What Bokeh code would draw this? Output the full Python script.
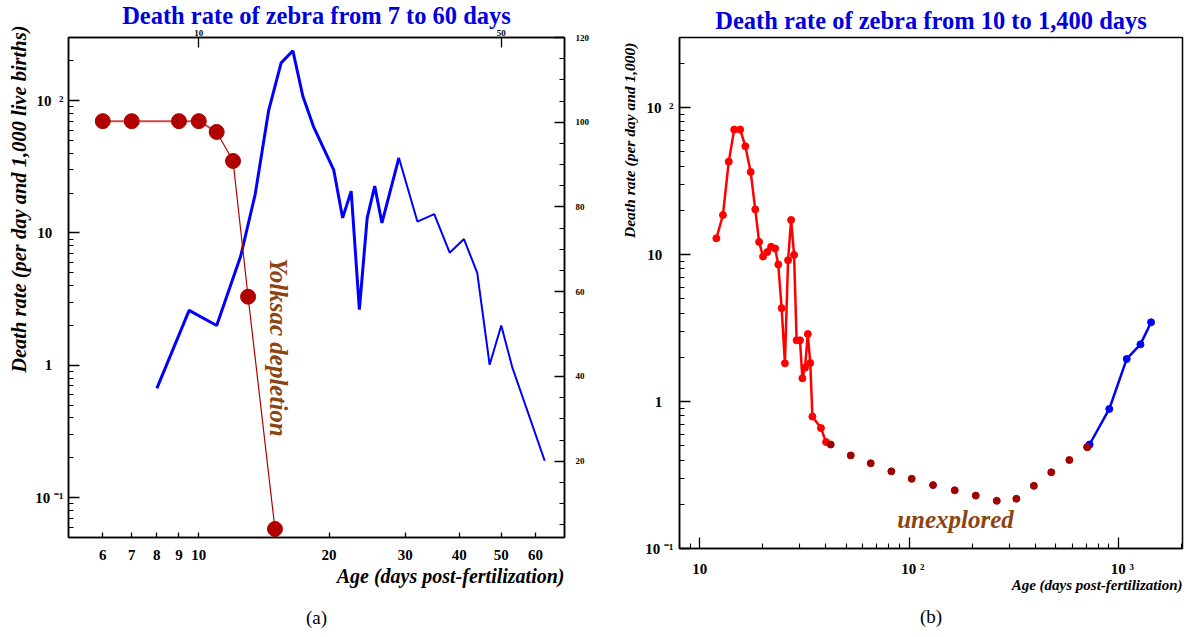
import math

from bokeh.embed import file_html
from bokeh.layouts import row
from bokeh.models import (FixedTicker, Label, LinearAxis, LinearScale, LogAxis,
                          Range1d, Title)
from bokeh.plotting import figure
from bokeh.resources import INLINE

# ---------------- data ----------------
# (a) 7 to 60 days: yolk-sac death rate (per day and 1,000 live births)
yolk_age = [6, 7, 9, 10, 11, 12, 13, 15]
yolk_rate = [70, 70, 70, 70, 58, 35, 3.3, 0.058]

# (a) death rate after yolk-sac depletion
early_age = [8, 9.5, 11, 12.5, 13.5, 14.5, 15.5, 16.5, 17.4, 18.4, 20.5, 21.5,
             22.5, 23.5, 24.5, 25.5, 26.5, 29, 32, 35, 38, 41, 44, 47, 50, 53, 63]
early_rate = [0.67, 2.6, 2.0, 6.7, 19.6, 84, 193, 238, 108, 64, 30, 13,
              20.7, 2.64, 13, 22.6, 11.9, 37, 12.2, 13.9, 7.1, 9.0, 5.0, 1.01,
              2.0, 0.97, 0.19]

# (b) 10 to 1,400 days
juv_age = [12, 12.9, 13.75, 14.6, 15.6, 16.5, 17.5, 18.4, 19.2, 20.05, 21, 21.9,
           22.9, 23.7, 24.6, 25.5, 26.4, 27.3, 28.2, 29, 30.1, 30.9, 31.8, 32.8,
           33.7, 34.5, 37.9, 40.1]
juv_rate = [12.9, 18.6, 42.9, 70.9, 70.9, 54.6, 36.5, 20.3, 12.2, 9.7, 10.4, 11.3,
            11.0, 8.56, 4.32, 1.82, 9.16, 17.2, 9.95, 2.61, 2.61, 1.44, 1.70, 2.88,
            1.83, 0.79, 0.66, 0.53]
gap_age = [42.2, 52.6, 65.5, 82.2, 102.8, 130, 165, 208, 262, 325, 394, 477, 582, 709]
gap_rate = [0.51, 0.43, 0.38, 0.335, 0.298, 0.27, 0.249, 0.229, 0.211, 0.218,
            0.267, 0.33, 0.40, 0.49]
adult_age = [727, 903, 1094, 1272, 1430]
adult_rate = [0.51, 0.89, 1.95, 2.45, 3.46]

# tick values and their labels
a_bottom_ticks = [6, 7, 8, 9, 10, 20, 30, 40, 50, 60]
a_top_ticks = [10, 50]
a_right_ticks = [20, 40, 60, 80, 100, 120]
rate_ticks = [0.1, 1, 10, 100]
b_age_ticks = [10, 100, 1000]

NB = "\u00a0"
rate_labels = {0.1: "10" + NB + "\u207b\u00b9", 1: "1" + NB * 3,
               10: "10" + NB * 3, 100: "10" + NB * 2 + "\u00b2"}
b_age_labels = {10: "10", 100: NB * 2 + "10" + NB + "\u00b2",
                1000: NB * 2 + "10" + NB + "\u00b3"}

SERIF = "Liberation Serif"
BLUE_TITLE = "#0000dd"
BROWN = "#8b4513"


def log_minors(lo_exp, hi_exp, lo, hi):
    out = []
    for e in range(lo_exp, hi_exp + 1):
        for k in range(2, 10):
            v = k * 10.0 ** e
            if lo <= v <= hi:
                out.append(round(v, 6))
    return out


def style_axis(ax, size="15px"):
    ax.axis_line_color = "black"
    ax.axis_line_width = 1.5
    ax.major_tick_line_color = "black"
    ax.minor_tick_line_color = "black"
    ax.major_tick_line_width = 1.3
    ax.minor_tick_line_width = 1.1
    ax.major_tick_out = 0
    ax.minor_tick_out = 0
    ax.major_label_text_font = SERIF
    ax.major_label_text_font_style = "bold"
    ax.major_label_text_font_size = size
    ax.major_label_text_color = "black"


def side_title(p, place, text, size, style="bold italic", align="center",
               standoff=0, offset=0, color="black"):
    p.add_layout(Title(text=text, align=align, standoff=standoff, offset=offset,
                       text_font=SERIF, text_font_size=size,
                       text_font_style=style, text_color=color), place)


def inner_text(p, x, y, text, size, color, angle=0.0):
    p.add_layout(Label(x=x, y=y, x_units="screen", y_units="screen", text=text,
                       text_font=SERIF, text_font_size=size,
                       text_font_style="bold italic", text_color=color,
                       text_align="center", text_baseline="middle", angle=angle))


def base_figure(x_range, y_range, fw, fh, left, right, top, bottom, title,
                title_standoff):
    p = figure(x_axis_type="log", y_axis_type="log",
               x_range=x_range, y_range=y_range,
               frame_width=fw, frame_height=fh,
               min_border_left=left, min_border_right=right,
               min_border_top=top, min_border_bottom=bottom,
               output_backend="svg", toolbar_location=None)
    p.title.text = title
    p.title.align = "center"
    p.title.text_font = SERIF
    p.title.text_font_size = "24.5px"
    p.title.text_font_style = "bold"
    p.title.text_color = BLUE_TITLE
    p.title.standoff = title_standoff
    p.grid.visible = False
    p.outline_line_color = "black"
    p.outline_line_width = 1.5
    return p


# ---------------- panel (a) ----------------
pa = base_figure(Range1d(5, 70), Range1d(0.05, 300), 496, 500, 68, 36, 36, 101,
                 "Death rate of zebra from 7 to 60 days", -5)

ya = pa.yaxis[0]
style_axis(ya)
ya.ticker = FixedTicker(ticks=rate_ticks, minor_ticks=log_minors(-2, 2, 0.05, 300))
ya.major_label_overrides = rate_labels
ya.major_tick_in = 11
ya.minor_tick_in = 5
ya.major_label_standoff = 5

xa = pa.xaxis[0]
style_axis(xa)
xa.ticker = FixedTicker(ticks=a_bottom_ticks, minor_ticks=[])
xa.major_label_overrides = {t: str(t) for t in a_bottom_ticks}
xa.major_tick_in = 5
xa.major_label_standoff = 12

top_a = LogAxis(ticker=FixedTicker(ticks=a_top_ticks, minor_ticks=[]))
style_axis(top_a, "9px")
top_a.major_label_overrides = {t: str(t) for t in a_top_ticks}
top_a.major_tick_in = 10
top_a.major_label_standoff = 2
pa.add_layout(top_a, "above")

pa.extra_y_ranges = {"right": Range1d(2, 120)}
pa.extra_y_scales = {"right": LinearScale()}
right_a = LinearAxis(y_range_name="right",
                     ticker=FixedTicker(ticks=a_right_ticks,
                                        minor_ticks=list(range(5, 120, 5))))
style_axis(right_a, "9px")
right_a.major_tick_in = 10
right_a.minor_tick_in = 5
right_a.major_label_standoff = 11
pa.add_layout(right_a, "right")

side_title(pa, "left", "Death rate (per day and 1,000 live births)", "20.5px",
           align="right", standoff=5, offset=-12)
side_title(pa, "below", "Age (days post-fertilization)", "20px",
           align="right", standoff=1)
side_title(pa, "below", "(a)", "19px", style="normal", standoff=34)

# death rate curve (thick through day 29, thinner afterwards)
k = early_age.index(29) + 1
pa.line(early_age[:k], early_rate[:k], line_color="#0000ff", line_width=3)
pa.line(early_age[k - 1:], early_rate[k - 1:], line_color="#0000ff", line_width=2)

# yolk-sac curve
j = yolk_age.index(11) + 1
pa.line(yolk_age[:j], yolk_rate[:j], line_color="#cc4a4a", line_width=2)
pa.line(yolk_age[j - 1:], yolk_rate[j - 1:], line_color="#b00000", line_width=1.2)
pa.scatter(yolk_age, yolk_rate, size=15, color="#b00000")

inner_text(pa, 210, 190, "Yolksac depletion", "25px", BROWN, angle=-math.pi / 2)

# ---------------- panel (b) ----------------
pb = base_figure(Range1d(8, 2020), Range1d(0.1, 300), 503, 511, 79, 8, 36, 90,
                 "Death rate of zebra from 10 to 1,400 days", 8)

yb = pb.yaxis[0]
style_axis(yb)
yb.ticker = FixedTicker(ticks=rate_ticks, minor_ticks=log_minors(-1, 2, 0.1, 300))
yb.major_label_overrides = rate_labels
yb.major_tick_in = 11
yb.minor_tick_in = 5
yb.major_label_standoff = 6

xb = pb.xaxis[0]
style_axis(xb)
xb.ticker = FixedTicker(ticks=b_age_ticks, minor_ticks=log_minors(0, 3, 8, 2020))
xb.major_label_overrides = b_age_labels
xb.major_tick_in = 11
xb.minor_tick_in = 5
xb.major_label_standoff = 12

side_title(pb, "left", "Death rate (per day and 1,000)", "15.5px",
           align="right", standoff=10, offset=5)
side_title(pb, "below", "Age (days post-fertilization)", "15px",
           align="right", standoff=-9)
side_title(pb, "below", "(b)", "19px", style="normal", standoff=30)

pb.line(juv_age, juv_rate, line_color="#ff0000", line_width=2.5)
pb.scatter(juv_age, juv_rate, size=7, color="#ff0000")
pb.scatter(gap_age, gap_rate, size=7, color="#a00000")
pb.line(adult_age, adult_rate, line_color="#0000ff", line_width=2.5)
pb.scatter(adult_age, adult_rate, size=7, color="#0000ff")
pb.scatter(gap_age[-1:], gap_rate[-1:], size=7, color="#a00000")

inner_text(pb, 276, 29, "unexplored", "25px", BROWN)

layout = row(pa, pb, spacing=0)
open("out.html", "w").write(file_html(layout, INLINE))
